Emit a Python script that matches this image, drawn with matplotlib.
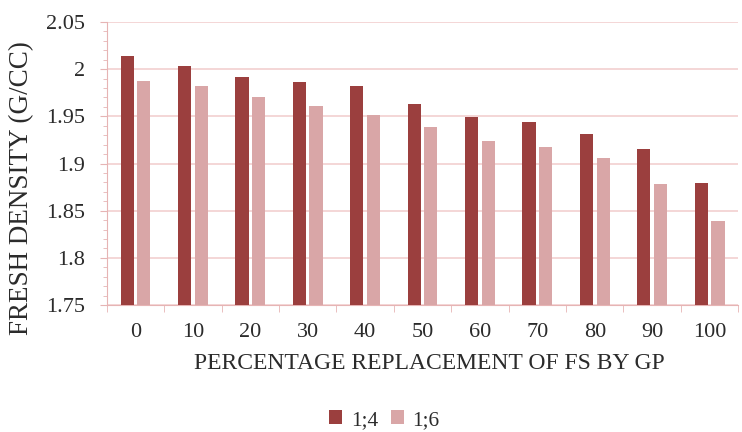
import matplotlib
matplotlib.use("Agg")
import matplotlib.pyplot as plt
import numpy as np
from matplotlib.ticker import MultipleLocator, FixedLocator

categories = ["0", "10", "20", "30", "40", "50", "60", "70", "80", "90", "100"]
series_14 = [2.014, 2.003, 1.992, 1.986, 1.982, 1.963, 1.949, 1.944, 1.931, 1.915, 1.879]
series_16 = [1.987, 1.982, 1.970, 1.961, 1.951, 1.939, 1.924, 1.917, 1.906, 1.878, 1.839]
y_ticks = [1.75, 1.8, 1.85, 1.9, 1.95, 2.0, 2.05]
y_ticklabels = ["1.75", "1.8", "1.85", "1.9", "1.95", "2", "2.05"]

plt.rcParams['font.family'] = ['Liberation Serif', 'DejaVu Serif']
dark = "#9B3F3E"
light = "#D9A6A7"
gridc = "#F2CFCF"
spinec = "#E6B4B4"
textc = "#2b2b2b"

fig = plt.figure(figsize=(7.42, 4.32), dpi=100)
ax = fig.add_axes([0.144, 0.294, 0.851, 0.655])

x = np.arange(len(categories))
w = 0.23
ax.bar(x - 0.145, series_14, width=w, color=dark, label="1;4", zorder=3)
ax.bar(x + 0.145, series_16, width=w, color=light, label="1;6", zorder=3)

ax.set_ylim(1.75, 2.05)
ax.set_xlim(-0.5, len(categories) - 0.5)
ax.set_yticks(y_ticks)
ax.set_yticklabels(y_ticklabels)
ax.yaxis.set_minor_locator(MultipleLocator(0.01))
ax.set_xticks(x)
ax.set_xticklabels(categories)
ax.xaxis.set_minor_locator(FixedLocator(np.arange(-0.5, len(categories), 1.0)))
ax.tick_params(axis='x', which='major', length=0, pad=13, labelsize=16, labelcolor=textc)
ax.tick_params(axis='x', which='minor', length=5, color=spinec, direction='out')
ax.tick_params(axis='y', which='major', length=5, color=spinec, labelsize=16, labelcolor=textc, pad=11)
ax.tick_params(axis='y', which='minor', length=3, color=spinec)

ax.grid(axis='y', which='major', color=gridc, linewidth=1.2, zorder=0)
for s in ["top", "right"]:
    ax.spines[s].set_visible(False)
ax.spines["left"].set_color(spinec)
ax.spines["bottom"].set_color(spinec)

ax.set_ylabel("FRESH DENSITY (G/CC)", fontsize=19.5, color=textc)
ax.yaxis.set_label_coords(-0.115, 0.413)
ax.set_xlabel("PERCENTAGE REPLACEMENT OF FS BY GP", fontsize=17, color=textc)
ax.xaxis.set_label_coords(0.511, -0.168)

fig.legend(loc="center", bbox_to_anchor=(0.518, 1 - 420 / 432), ncol=2, frameon=False,
           fontsize=15.5, handlelength=0.6, handleheight=0.6, handletextpad=0.4,
           columnspacing=0.6, labelcolor=textc)

fig.savefig("out.png", dpi=100)
